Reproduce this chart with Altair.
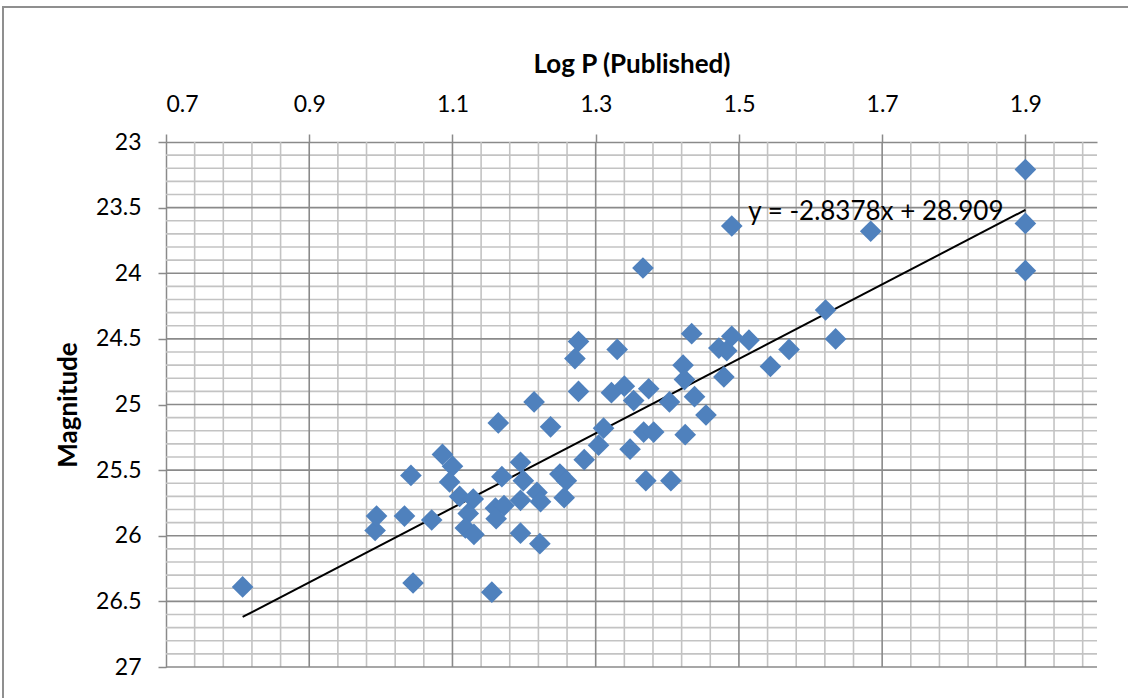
import altair as alt
import pandas as pd

# Cepheid sample: log period vs. apparent magnitude
log_p = [0.807, 0.992, 0.994, 1.033, 1.042, 1.045, 1.071, 1.086, 1.100, 1.096,
         1.110, 1.129, 1.122, 1.118, 1.130, 1.155, 1.169, 1.164, 1.195, 1.199,
         1.160, 1.172, 1.161, 1.195, 1.218, 1.223, 1.195, 1.222, 1.214, 1.237,
         1.250, 1.259, 1.256, 1.276, 1.271, 1.330, 1.276, 1.322, 1.340, 1.353,
         1.374, 1.403, 1.434, 1.422, 1.424, 1.438, 1.454, 1.425, 1.472, 1.483,
         1.490, 1.514, 1.479, 1.544, 1.570, 1.621, 1.635, 1.311, 1.304, 1.284,
         1.348, 1.367, 1.381, 1.370, 1.405, 1.490, 1.684, 1.366, 1.900, 1.900,
         1.900]
magnitude = [26.39, 25.96, 25.85, 25.85, 25.54, 26.36, 25.88, 25.38, 25.47, 25.59,
             25.70, 25.72, 25.83, 25.94, 25.99, 26.43, 25.55, 25.14, 25.44, 25.58,
             25.79, 25.77, 25.87, 25.73, 25.67, 25.74, 25.98, 26.06, 24.98, 25.17,
             25.53, 25.58, 25.71, 24.52, 24.65, 24.58, 24.90, 24.91, 24.86, 24.97,
             24.88, 24.98, 24.46, 24.70, 24.81, 24.94, 25.08, 25.23, 24.57, 24.59,
             24.48, 24.51, 24.79, 24.71, 24.58, 24.28, 24.50, 25.18, 25.31, 25.42,
             25.34, 25.21, 25.21, 25.58, 25.58, 23.64, 23.68, 23.96, 23.21, 23.62,
             23.98]

# Linear trend line (as fitted)
slope = -2.8378
intercept = 28.909

x_ticks = [0.7, 0.9, 1.1, 1.3, 1.5, 1.7, 1.9]
y_ticks = [23, 23.5, 24, 24.5, 25, 25.5, 26, 26.5, 27]
x_minor = [round(0.7 + 0.04 * i, 2) for i in range(1, 33) if i % 5]
y_minor = [round(23 + 0.1 * i, 1) for i in range(1, 40) if i % 5]

FONT = "Lato"
BLUE = "#4F81BD"
MAJOR = "#8a8a8a"
MINOR = "#c3c3c3"

points = pd.DataFrame({"log_p": log_p, "magnitude": magnitude})
x0, x1 = min(log_p), max(log_p)
trend = pd.DataFrame({"log_p": [x0, x1],
                      "magnitude": [slope * x0 + intercept, slope * x1 + intercept]})
label = pd.DataFrame({"log_p": [1.513], "magnitude": [23.53],
                      "text": [f"y = {slope}x + {intercept}"]})

xs = alt.Scale(domain=[0.7, 2.0], nice=False, zero=False)
ys = alt.Scale(domain=[23, 27], nice=False, zero=False, reverse=True)

x_axis = alt.Axis(
    orient="top", values=x_ticks, format=".1f", grid=False,
    title="Log P (Published)", titleFontWeight="bold", titleFontSize=26,
    titleFont=FONT, titleColor="black", titleX=465.5, titleY=-78,
    titleBaseline="middle",
    labelFont=FONT, labelFontSize=23, labelColor="black", labelPadding=18,
    tickSize=8, tickColor=MAJOR, domainColor=MAJOR, domainWidth=1.5, tickWidth=1.5,
)
y_axis = alt.Axis(
    orient="left", values=y_ticks, grid=False,
    labelExpr="datum.value % 1 === 0 ? format(datum.value, 'd') : format(datum.value, '.1f')",
    title="Magnitude", titleFontWeight="bold", titleFontSize=26,
    titleFont=FONT, titleColor="black", titleX=-98, titleY=262.5,
    titleAngle=-90, titleBaseline="middle", titleAlign="center",
    labelFont=FONT, labelFontSize=23, labelColor="black", labelPadding=17,
    tickSize=8, tickColor=MAJOR, domainColor=MAJOR, domainWidth=1.5, tickWidth=1.5,
)

X = alt.X("log_p:Q", scale=xs, axis=x_axis)
Y = alt.Y("magnitude:Q", scale=ys, axis=y_axis)

minor_v = alt.Chart(pd.DataFrame({"log_p": x_minor})).mark_rule(
    color=MINOR, strokeWidth=1.6).encode(x=X)
minor_h = alt.Chart(pd.DataFrame({"magnitude": y_minor})).mark_rule(
    color=MINOR, strokeWidth=1.6).encode(y=Y)
major_v = alt.Chart(pd.DataFrame({"log_p": x_ticks[1:]})).mark_rule(
    color=MAJOR, strokeWidth=1.6).encode(x=X)
major_h = alt.Chart(pd.DataFrame({"magnitude": y_ticks[1:]})).mark_rule(
    color=MAJOR, strokeWidth=1.6).encode(y=Y)

scatter = alt.Chart(points).mark_point(
    shape="diamond", filled=True, size=470, color=BLUE, opacity=1
).encode(x=X, y=Y)

line = alt.Chart(trend).mark_line(color="black", strokeWidth=2).encode(x=X, y=Y)

eq = alt.Chart(label).mark_text(
    align="left", baseline="middle", font=FONT, fontSize=26, color="black"
).encode(x=X, y=Y, text="text:N")

# Chart-area frame around the whole figure (runs off the right and bottom edges)
frame = alt.Chart(pd.DataFrame({"k": [0]})).mark_rect(
    fillOpacity=0, stroke="#8f8f8f", strokeWidth=2
).encode(x=alt.value(-163), x2=alt.value(1600), y=alt.value(-135), y2=alt.value(1200))

chart = alt.layer(
    minor_v, minor_h, major_v, major_h, line, scatter, eq, frame
).properties(
    width=931, height=525,
    autosize=alt.AutoSizeParams(type="none"),
    padding={"left": 166, "top": 142, "right": 31, "bottom": 31},
    background="white",
).configure_view(stroke=None)

chart.save("out.html", embed_options={"renderer": "svg", "actions": False})
